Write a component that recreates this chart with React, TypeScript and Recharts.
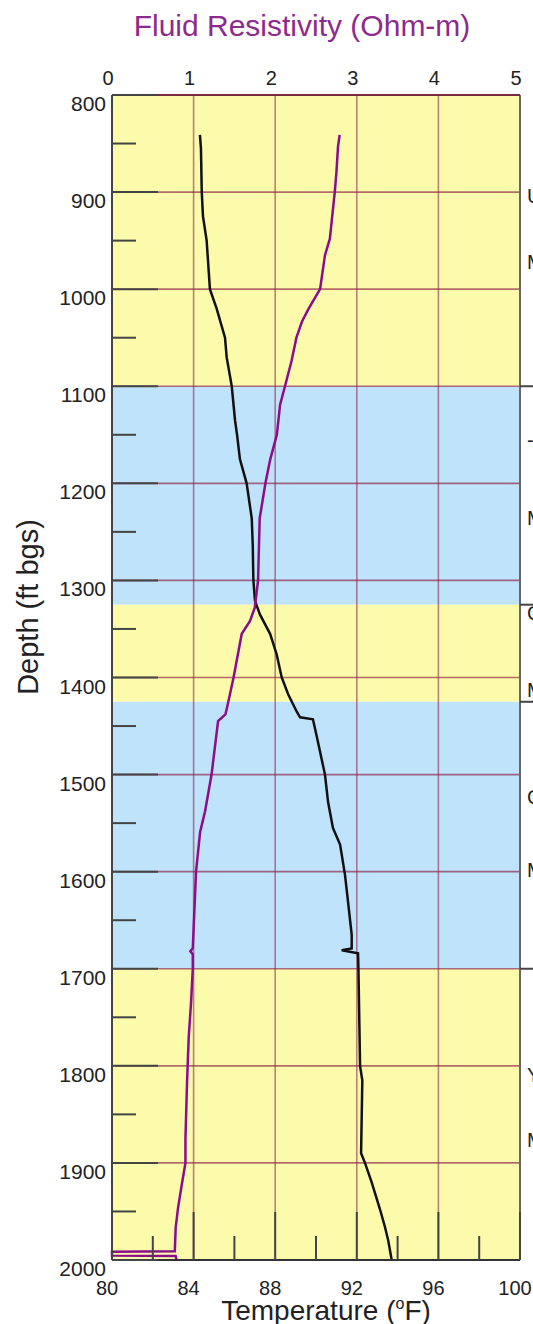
import React from 'react'
import {
    ComposedChart,
    Line,
    XAxis,
    YAxis,
    ReferenceArea,
    ReferenceLine,
    Label,
} from 'recharts'

// temperature log (deg F) against depth (ft bgs)
const tempDepth = [841, 855, 900, 925, 950, 1000, 1020, 1050, 1070, 1100, 1135, 1150, 1175, 1200, 1236, 1264, 1300, 1321, 1335, 1355, 1376, 1400, 1417, 1435, 1441, 1443, 1460, 1500, 1528, 1555, 1572, 1603, 1631, 1665, 1679, 1681, 1684, 1700, 1800, 1815, 1890, 1900, 1920, 1948, 1966, 1980, 2000]
const tempF = [84.31, 84.36, 84.40, 84.46, 84.64, 84.80, 85.13, 85.54, 85.62, 85.87, 86.03, 86.13, 86.27, 86.60, 86.85, 86.90, 86.93, 87.01, 87.25, 87.75, 88.07, 88.32, 88.63, 89.05, 89.22, 89.85, 90.03, 90.44, 90.59, 90.83, 91.18, 91.42, 91.57, 91.75, 91.75, 91.26, 92.06, 92.08, 92.16, 92.27, 92.21, 92.40, 92.73, 93.14, 93.38, 93.54, 93.71]

// fluid resistivity log (ohm-m) against depth
const resDepth = [841, 853, 880, 900, 948, 965, 1000, 1020, 1033, 1050, 1074, 1100, 1119, 1150, 1175, 1200, 1236, 1300, 1328, 1342, 1355, 1400, 1431, 1438, 1445, 1500, 1538, 1559, 1600, 1679, 1682, 1685, 1700, 1733, 1771, 1816, 1875, 1900, 1925, 1946, 1967, 1991, 1991.5, 1995.5, 1996, 2000]
const resOhm = [2.79, 2.77, 2.75, 2.73, 2.67, 2.61, 2.55, 2.41, 2.33, 2.26, 2.20, 2.12, 2.06, 2.02, 1.94, 1.88, 1.81, 1.79, 1.75, 1.69, 1.59, 1.49, 1.41, 1.39, 1.30, 1.22, 1.14, 1.08, 1.03, 0.99, 0.96, 0.99, 0.99, 0.97, 0.94, 0.92, 0.90, 0.90, 0.85, 0.81, 0.78, 0.77, 0, 0, 0.78, 0.79]

// depth intervals
const bandTop = [800, 1100, 1325, 1425, 1700]
const bandBottom = [1100, 1325, 1425, 1700, 2000]
const bandKind = ['confining', 'aquifer', 'confining', 'aquifer', 'confining']

const depthTicks = [800, 850, 900, 950, 1000, 1050, 1100, 1150, 1200, 1250, 1300, 1350, 1400, 1450, 1500, 1550, 1600, 1650, 1700, 1750, 1800, 1850, 1900, 1950, 2000]
const depthGrid = [900, 1000, 1100, 1200, 1300, 1400, 1500, 1600, 1700, 1800, 1900]
const resTicks = [0, 1, 2, 3, 4, 5]
const tempTicks = [80, 82, 84, 86, 88, 90, 92, 94, 96, 98, 100]
const tempGrid = [84, 88, 92, 96]

// clipped labels of the lithology column at the right edge
const lithoDepth = [904, 972, 1155, 1236, 1334, 1413, 1523, 1598, 1809, 1876]
const lithoText = ['U', 'M', '-', 'M', 'C', 'M', 'C', 'M', 'Y', 'M']
const lithoBreaks = [1100, 1325, 1425, 1700]

const BAND_COLORS: Record<string, string> = { confining: '#fbfbab', aquifer: '#bfe3fa' }
const GRID = '#8c1f45'
const PURPLE = '#8b0d8b'
const FONT = '"Liberation Sans", Arial, sans-serif'

const tempData = tempDepth.map((d, i) => ({ depth: d, temp: tempF[i] }))
const resData = resDepth.map((d, i) => ({ depth: d, res: resOhm[i] }))

const DepthTick = (props: any) => {
    const { x, y, payload } = props
    const v = payload.value
    const major = v % 100 === 0
    return (
        <g>
            <line x1={x} x2={x + (major ? 46 : 24)} y1={y} y2={y} stroke="#444" strokeWidth={2} />
            {major && (
                <text x={x - 6} y={y + 16} textAnchor="end" fontSize={21} fill="#222" fontFamily={FONT}>
                    {v}
                </text>
            )}
        </g>
    )
}

const TempTick = (props: any) => {
    const { x, y, payload } = props
    const v = payload.value
    const major = v % 4 === 0
    return (
        <g>
            <line x1={x} x2={x} y1={y} y2={y - (major ? 48 : 24)} stroke="#444" strokeWidth={2} />
            {major && (
                <text x={x - 5} y={y + 35} textAnchor="middle" fontSize={20} fill="#222" fontFamily={FONT}>
                    {v}
                </text>
            )}
        </g>
    )
}

const ResTick = (props: any) => {
    const { x, y, payload } = props
    return (
        <text x={x - 4} y={y - 10} textAnchor="middle" fontSize={20} fill="#222" fontFamily={FONT}>
            {payload.value}
        </text>
    )
}

function App() {
    return (
        <>
            <style>{'body { margin: 0; }'}</style>
            <ComposedChart
                width={533}
                height={1324}
                layout="vertical"
                margin={{ top: 55, right: 13, bottom: 4, left: 16 }}
                style={{ fontFamily: FONT }}
            >
                {bandTop.map((t, i) => (
                    <ReferenceArea
                        key={`band-${i}`}
                        xAxisId="temp"
                        yAxisId="depth"
                        y1={t}
                        y2={bandBottom[i]}
                        fill={BAND_COLORS[bandKind[i]]}
                        fillOpacity={1}
                        stroke="none"
                    />
                ))}
                {depthGrid.map((d) => (
                    <ReferenceLine key={`h-${d}`} xAxisId="temp" yAxisId="depth" y={d} stroke={GRID} strokeOpacity={0.65} strokeWidth={1.6} />
                ))}
                {tempGrid.map((t) => (
                    <ReferenceLine key={`v-${t}`} xAxisId="temp" yAxisId="depth" x={t} stroke={GRID} strokeOpacity={0.55} strokeWidth={1.6} />
                ))}
                <ReferenceLine xAxisId="temp" yAxisId="depth" x={100} stroke="#666" strokeWidth={2} />

                {/* lithology column, cut off by the right edge */}
                {lithoBreaks.map((d) => (
                    <ReferenceLine
                        key={`brk-${d}`}
                        xAxisId="temp"
                        yAxisId="depth"
                        y={d}
                        stroke="none"
                        label={(p: any) => (
                            <line
                                x1={p.viewBox.x + p.viewBox.width}
                                x2={p.viewBox.x + p.viewBox.width + 16}
                                y1={p.viewBox.y}
                                y2={p.viewBox.y}
                                stroke="#444"
                                strokeWidth={2}
                            />
                        )}
                    />
                ))}
                {lithoDepth.map((d, i) => (
                    <ReferenceLine
                        key={`lith-${d}`}
                        xAxisId="temp"
                        yAxisId="depth"
                        y={d}
                        stroke="none"
                        label={(p: any) => (
                            <text x={p.viewBox.x + p.viewBox.width + 7} y={p.viewBox.y + 7} fontSize={20} fill="#222" fontFamily={FONT}>
                                {lithoText[i]}
                            </text>
                        )}
                    />
                ))}

                <XAxis
                    xAxisId="res"
                    orientation="top"
                    type="number"
                    domain={[0, 5]}
                    ticks={resTicks}
                    height={40}
                    tickSize={0}
                    tickMargin={0}
                    tickLine={false}
                    axisLine={{ stroke: '#7a2a40', strokeWidth: 2 }}
                    tick={<ResTick />}
                    interval={0}
                >
                    <Label
                        content={() => (
                            <text x={302} y={36} textAnchor="middle" fontSize={30} fill="#8e2a8e" fontFamily={FONT}>
                                Fluid Resistivity (Ohm-m)
                            </text>
                        )}
                    />
                </XAxis>
                <XAxis
                    xAxisId="temp"
                    orientation="bottom"
                    type="number"
                    domain={[80, 100]}
                    ticks={tempTicks}
                    height={60}
                    tickSize={0}
                    tickMargin={0}
                    tickLine={false}
                    axisLine={{ stroke: '#333', strokeWidth: 2 }}
                    tick={<TempTick />}
                    interval={0}
                >
                    <Label
                        content={() => (
                            <text x={326} y={1320} textAnchor="middle" fontSize={28} fill="#222" fontFamily={FONT}>
                                Temperature (<tspan fontSize={16} dy={-11}>o</tspan>
                                <tspan dy={11}>F)</tspan>
                            </text>
                        )}
                    />
                </XAxis>
                <YAxis
                    yAxisId="depth"
                    dataKey="depth"
                    type="number"
                    domain={[800, 2000]}
                    ticks={depthTicks}
                    width={96}
                    tickSize={0}
                    tickMargin={0}
                    tickLine={false}
                    axisLine={{ stroke: '#444', strokeWidth: 2 }}
                    tick={<DepthTick />}
                    interval={0}
                >
                    <Label
                        content={() => (
                            <text
                                x={28}
                                y={607}
                                textAnchor="middle"
                                dominantBaseline="central"
                                fontSize={29}
                                fill="#222"
                                fontFamily={FONT}
                                transform="rotate(-90, 28, 607)"
                            >
                                Depth (ft bgs)
                            </text>
                        )}
                    />
                </YAxis>

                <Line
                    data={tempData}
                    xAxisId="temp"
                    yAxisId="depth"
                    dataKey="temp"
                    stroke="#111"
                    strokeWidth={2.5}
                    dot={false}
                    isAnimationActive={false}
                />
                <Line
                    data={resData}
                    xAxisId="res"
                    yAxisId="depth"
                    dataKey="res"
                    stroke={PURPLE}
                    strokeWidth={2.5}
                    dot={false}
                    isAnimationActive={false}
                />
            </ComposedChart>
        </>
    )
}

export default App
